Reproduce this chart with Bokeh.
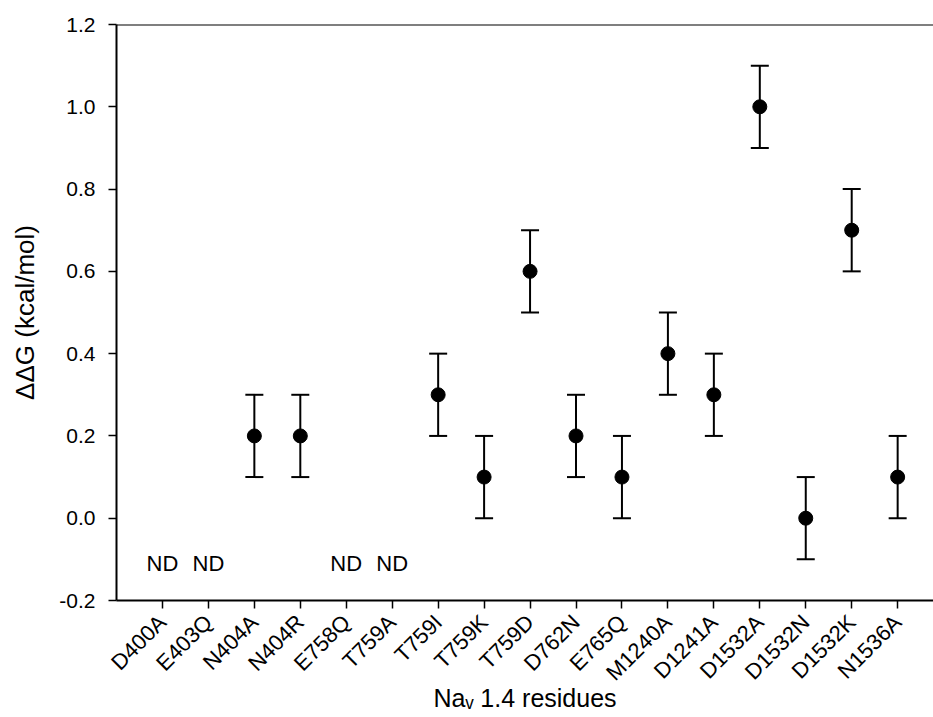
from bokeh.plotting import figure
from bokeh.models import (ColumnDataSource, Whisker, TeeHead, Range1d, FixedTicker, Span)
from bokeh.core.properties import value
from bokeh.embed import file_html
from bokeh.resources import INLINE
import math

residues = ["D400A", "E403Q", "N404A", "N404R", "E758Q", "T759A", "T759I", "T759K",
            "T759D", "D762N", "E765Q", "M1240A", "D1241A", "D1532A", "D1532N",
            "D1532K", "N1536A"]
measured = ["N404A", "N404R", "T759I", "T759K", "T759D", "D762N", "E765Q", "M1240A",
            "D1241A", "D1532A", "D1532N", "D1532K", "N1536A"]
ddg = [0.2, 0.2, 0.3, 0.1, 0.6, 0.2, 0.1, 0.4, 0.3, 1.0, 0.0, 0.7, 0.1]
err = [0.1, 0.1, 0.1, 0.1, 0.1, 0.1, 0.1, 0.1, 0.1, 0.1, 0.1, 0.1, 0.1]
not_determined = ["D400A", "E403Q", "E758Q", "T759A"]
nd_level = -0.11
y_ticks = [-0.2, 0.0, 0.2, 0.4, 0.6, 0.8, 1.0, 1.2]
y_tick_labels = ["-0.2", "0.0", "0.2", "0.4", "0.6", "0.8", "1.0", "1.2"]
x_title = "Na\u1d65 1.4 residues"
y_title = "ΔΔG (kcal/mol)"

FONT = "Liberation Sans"
pos = {r: i + 1 for i, r in enumerate(residues)}

p = figure(width=933, height=715, output_backend="svg", toolbar_location=None,
           x_range=Range1d(0, 17.78), y_range=Range1d(-0.2, 1.2),
           min_border_left=116, min_border_right=0, min_border_top=24,
           min_border_bottom=115)
p.outline_line_color = None
p.grid.visible = False
p.background_fill_color = "white"
p.border_fill_color = "white"

src = ColumnDataSource(dict(x=[pos[r] for r in measured], y=ddg,
                            lo=[v - e for v, e in zip(ddg, err)],
                            hi=[v + e for v, e in zip(ddg, err)]))
p.add_layout(Whisker(base="x", lower="lo", upper="hi", source=src, dimension="height",
                     line_width=2, line_color="black",
                     upper_head=TeeHead(size=18, line_width=2, line_color="black"),
                     lower_head=TeeHead(size=18, line_width=2, line_color="black")))
p.scatter("x", "y", source=src, size=14, color="black")

nd_src = ColumnDataSource(dict(x=[pos[r] for r in not_determined],
                               y=[nd_level] * len(not_determined),
                               t=["ND"] * len(not_determined)))
p.text("x", "y", text="t", source=nd_src, text_font=value(FONT), text_font_size="22px",
       text_align="center", text_baseline="middle", color="black")

p.add_layout(Span(location=1.2, dimension="width", line_color="black", line_width=2))

xa = p.xaxis[0]
xa.ticker = FixedTicker(ticks=[pos[r] for r in residues])
xa.major_label_overrides = {pos[r]: r for r in residues}
xa.major_label_orientation = math.pi / 4
xa.minor_tick_line_color = None
xa.major_tick_in = 0
xa.major_tick_out = 8
xa.major_tick_line_width = 1.5
xa.axis_line_width = 2
xa.major_label_standoff = 10
xa.major_label_text_font = FONT
xa.major_label_text_font_size = "22px"
xa.major_label_text_color = "black"
xa.axis_label = x_title
xa.axis_label_text_font = FONT
xa.axis_label_text_font_size = "25px"
xa.axis_label_text_font_style = "normal"
xa.axis_label_text_color = "black"
xa.axis_label_standoff = -13

ya = p.yaxis[0]
ya.ticker = FixedTicker(ticks=y_ticks)
ya.major_label_overrides = {t: l for t, l in zip(y_ticks, y_tick_labels)}
ya.minor_tick_line_color = None
ya.major_tick_in = 0
ya.major_tick_out = 8
ya.major_tick_line_width = 1.5
ya.axis_line_width = 2
ya.major_label_standoff = 13
ya.major_label_text_font = FONT
ya.major_label_text_font_size = "21px"
ya.major_label_text_color = "black"
ya.axis_label = y_title
ya.axis_label_text_font = FONT
ya.axis_label_text_font_size = "26px"
ya.axis_label_text_font_style = "normal"
ya.axis_label_text_color = "black"
ya.axis_label_standoff = 16

open("out.html", "w").write(file_html(p, INLINE))
